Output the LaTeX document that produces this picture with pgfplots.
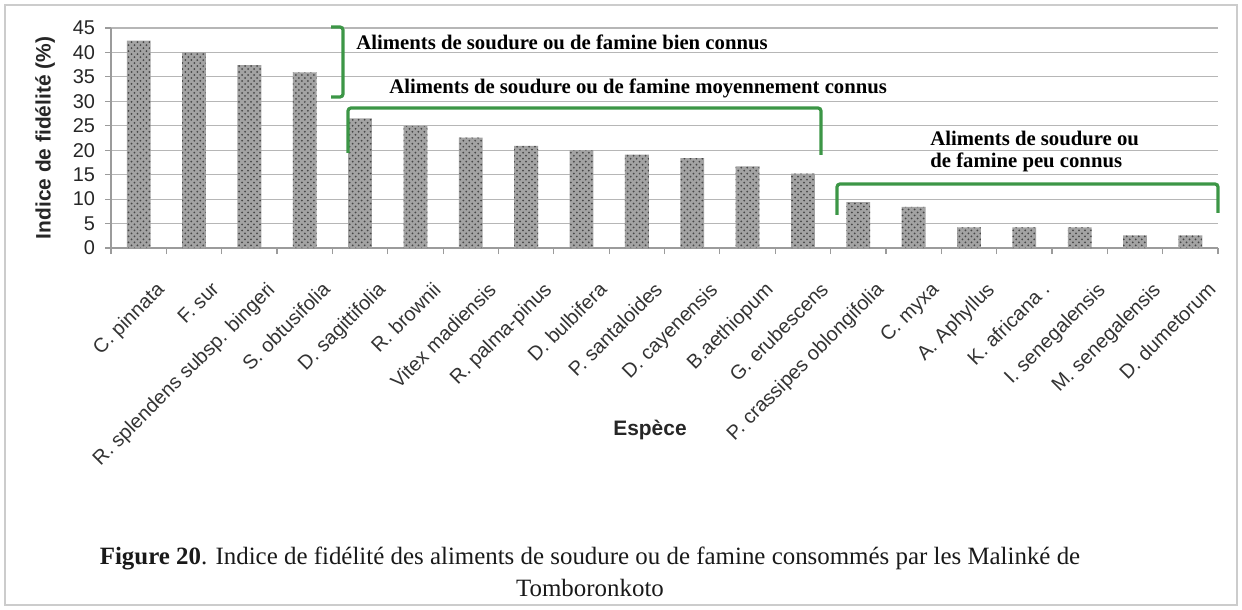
\documentclass[border=0pt]{standalone}
\usepackage{fontspec}
\setmainfont{Liberation Serif}
\setsansfont{Liberation Sans}
\usepackage{pgfplots}
\pgfplotsset{compat=1.18}
\usetikzlibrary{patterns}
\definecolor{brk}{RGB}{60,150,70}
\definecolor{gridc}{RGB}{182,182,182}
\begin{document}
\begin{tikzpicture}
\begin{axis}[
  at={(55.5bp,181bp)}, anchor=south west,
  scale only axis, width=553.5bp, height=110bp,
  xmin=-0.5, xmax=19.5, ymin=0, ymax=45,
  ytick={0,5,...,45},
  ymajorgrids, major grid style={gridc, line width=0.6bp},
  axis lines*=left, axis line style={gridc!85!black, line width=0.6bp},
  tick align=outside, major tick length=3bp, minor tick length=3bp,
  xtick={0,...,19},
  minor xtick={-0.5,0.5,...,19.5},
  every major x tick/.append style={draw=none},
  every minor x tick/.append style={gridc!85!black, line width=0.6bp},
  every major y tick/.append style={gridc!85!black, line width=0.6bp},
  xticklabels={C. pinnata, F. sur, R. splendens subsp. bingeri, S. obtusifolia, D. sagittifolia, R. brownii, Vitex madiensis, R. palma-pinus, D. bulbifera, P. santaloides, D. cayenensis, B.aethiopum, G. erubescens, P. crassipes oblongifolia, C. myxa, A. Aphyllus, K. africana ., I. senegalensis, M. senegalensis, D. dumetorum},
  xticklabel style={rotate=45, anchor=north east, font=\sffamily\fontsize{10}{10}\selectfont, text=black!80, inner sep=1bp, yshift=-14bp, xshift=-2.5bp},
  yticklabel style={font=\sffamily\fontsize{10}{10}\selectfont, text=black!85, xshift=-1.5bp},
  /pgf/number format/assume math mode=true,
  clip=false,
]
\addplot[ybar, bar width=0.43, fill=black!36, draw=none,
  postaction={pattern=crosshatch dots, pattern color=black!72}]
  coordinates {(0,42.4) (1,40.0) (2,37.4) (3,35.9) (4,26.5) (5,25.0) (6,22.6) (7,20.9) (8,20.0) (9,19.1) (10,18.4) (11,16.7) (12,15.2) (13,9.4) (14,8.4) (15,4.2) (16,4.2) (17,4.2) (18,2.6) (19,2.6)};
\end{axis}
\begin{scope}[x=0.5bp, y=-0.5bp, shift={(0,305bp)}]
  \path (0,0) rectangle (1242,610);
  \draw[black!20, line width=0.8bp] (5,5) rectangle (1237,605);
  \node[rotate=90, font=\sffamily\bfseries\fontsize{10.5}{12}\selectfont, text=black!85] at (45,138) {Indice de fidélité (\%)};
  \node[font=\sffamily\bfseries\fontsize{10.5}{12}\selectfont, text=black!85] at (650,430) {Espèce};
  \draw[brk, line width=1.6bp, rounded corners=1.5bp] (331,27) -- (343,27) -- (343,97) -- (331,97);
  \draw[brk, line width=1.6bp, rounded corners=1.5bp] (348,153) -- (348,108) -- (821,108) -- (821,155);
  \draw[brk, line width=1.6bp, rounded corners=1.5bp] (837,215) -- (837,184) -- (1218,184) -- (1218,213);
  \node[anchor=west, inner sep=0pt, font=\bfseries\fontsize{10.4}{12}\selectfont] at (356,42) {Aliments de soudure ou de famine bien connus};
  \node[anchor=west, inner sep=0pt, font=\bfseries\fontsize{10.4}{12}\selectfont] at (389,88) {Aliments de soudure ou de famine moyennement connus};
  \node[anchor=west, inner sep=0pt, font=\bfseries\fontsize{10.4}{12}\selectfont] at (930,138) {Aliments de soudure ou};
  \node[anchor=west, inner sep=0pt, font=\bfseries\fontsize{10.4}{12}\selectfont] at (930,162) {de famine peu connus};
  \node[font=\fontsize{12.5}{14}\selectfont, text=black!90] at (590,558) {\textbf{Figure 20}. Indice de fidélité des aliments de soudure ou de famine consommés par les Malinké de};
  \node[font=\fontsize{12.5}{14}\selectfont, text=black!90] at (590,588) {Tomboronkoto};
\end{scope}
\end{tikzpicture}
\end{document}
